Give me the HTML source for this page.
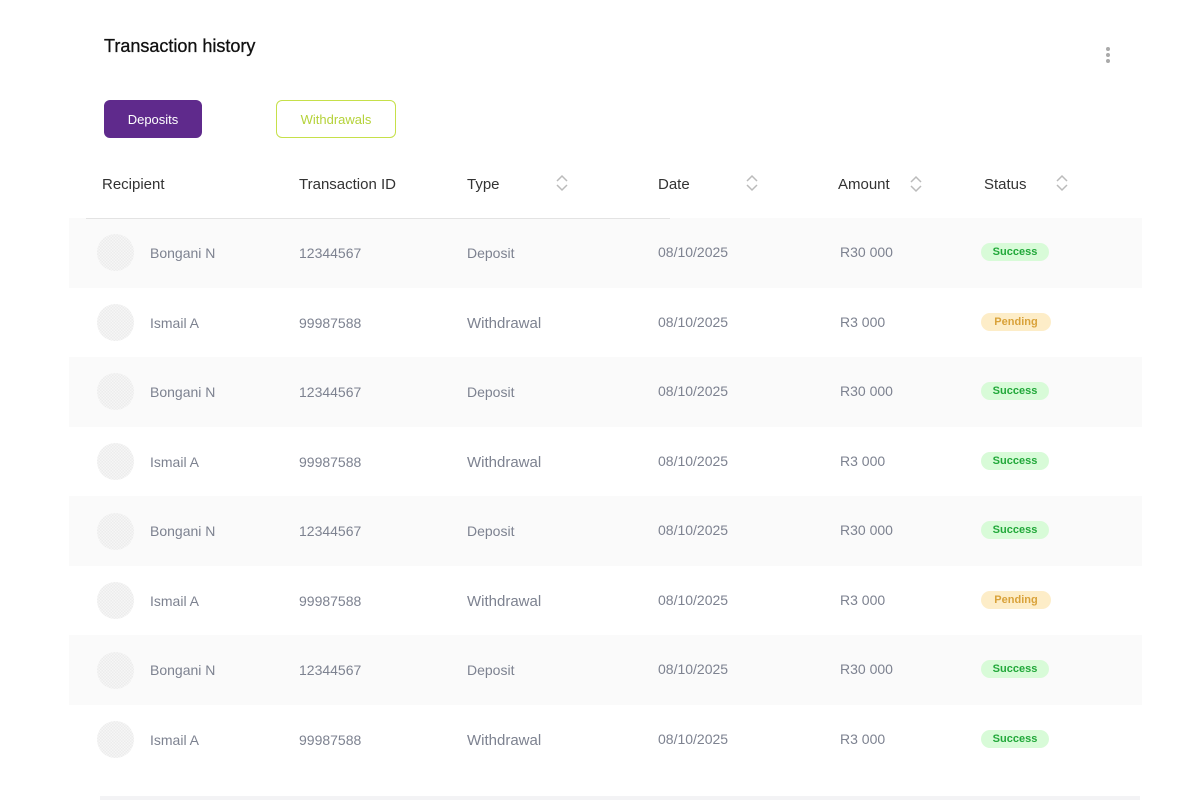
<!DOCTYPE html>
<html><head><meta charset="utf-8"><style>
*{margin:0;padding:0;box-sizing:border-box}
body{width:1200px;height:800px;background:#fff;position:relative;overflow:hidden;font-family:"Liberation Sans",sans-serif}
.a{position:absolute;white-space:nowrap}
.title{left:104px;top:36px;font-size:18px;color:#111;-webkit-text-stroke:0.3px #111}
.btn{top:100px;height:38px;border-radius:6px;font-size:13px;display:flex;align-items:center;justify-content:center}
.h{top:176px;font-size:15px;color:#333}
.sort{width:14px;height:20px}
.row{left:69px;width:1073px;height:70px}
.grey{background:#fafafa}
.c{font-size:14px;color:#7d8290;line-height:16px}
.w{font-size:15px;margin-top:2px}
.av{width:37px;height:37px;border-radius:50%;background:repeating-conic-gradient(#ececec 0 25%,#f6f6f6 0 50%) 0 0/3px 3px}
.pill{height:18px;border-radius:9px;font-size:11px;font-weight:bold;display:flex;align-items:center;justify-content:center}
.s{background:#d8fbd8;color:#22a83a;width:68px}
.p{background:#fdedc8;color:#d9a23a;width:70px}
.dot{left:1106px;width:4px;height:4px;border-radius:2px;background:#aaa}
</style></head><body>
<div class="a title">Transaction history</div>
<div class="a dot" style="top:47px"></div>
<div class="a dot" style="top:53px"></div>
<div class="a dot" style="top:59px"></div>
<div class="a btn" style="left:104px;width:98px;background:#5f2a8c;color:#fff">Deposits</div>
<div class="a btn" style="left:276px;width:120px;border:1.5px solid #c6e04a;color:#b5d23a">Withdrawals</div>

<div class="a h" style="left:102px">Recipient</div>
<div class="a h" style="left:299px">Transaction ID</div>
<div class="a h" style="left:467px">Type</div>
<div class="a h" style="left:658px">Date</div>
<div class="a h" style="left:838px">Amount</div>
<div class="a h" style="left:984px">Status</div>
<svg class="a sort" style="left:555px;top:173px" viewBox="0 0 14 20"><path d="M2 8L7 3L12 8M2 12L7 17L12 12" fill="none" stroke="#bbb" stroke-width="1.5"/></svg>
<svg class="a sort" style="left:745px;top:173px" viewBox="0 0 14 20"><path d="M2 8L7 3L12 8M2 12L7 17L12 12" fill="none" stroke="#bbb" stroke-width="1.5"/></svg>
<svg class="a sort" style="left:909px;top:174px" viewBox="0 0 14 20"><path d="M2 8L7 3L12 8M2 12L7 17L12 12" fill="none" stroke="#bbb" stroke-width="1.5"/></svg>
<svg class="a sort" style="left:1055px;top:173px" viewBox="0 0 14 20"><path d="M2 8L7 3L12 8M2 12L7 17L12 12" fill="none" stroke="#bbb" stroke-width="1.5"/></svg>

<div class="a row grey" style="top:218px"></div>
<div class="a row grey" style="top:357px"></div>
<div class="a row grey" style="top:496px"></div>
<div class="a row grey" style="top:635px"></div>
<div class="a" style="left:86px;top:218px;width:584px;height:1px;background:#e3e3e3"></div>
<div class="a" style="left:100px;top:796px;width:1040px;height:4px;background:#f3f3f5"></div>

<div class="a av" style="left:97px;top:234px"></div>
<div class="a c" style="left:150px;top:245px">Bongani N</div>
<div class="a c" style="left:299px;top:245px">12344567</div>
<div class="a c" style="left:467px;top:245px">Deposit</div>
<div class="a c" style="left:658px;top:244px">08/10/2025</div>
<div class="a c" style="left:840px;top:244px">R30 000</div>
<div class="a pill s" style="left:981px;top:243px">Success</div>

<div class="a av" style="left:97px;top:304px"></div>
<div class="a c" style="left:150px;top:315px">Ismail A</div>
<div class="a c" style="left:299px;top:315px">99987588</div>
<div class="a c w" style="left:467px;top:314px">Withdrawal</div>
<div class="a c" style="left:658px;top:314px">08/10/2025</div>
<div class="a c" style="left:840px;top:314px">R3 000</div>
<div class="a pill p" style="left:981px;top:313px">Pending</div>

<div class="a av" style="left:97px;top:373px"></div>
<div class="a c" style="left:150px;top:384px">Bongani N</div>
<div class="a c" style="left:299px;top:384px">12344567</div>
<div class="a c" style="left:467px;top:384px">Deposit</div>
<div class="a c" style="left:658px;top:383px">08/10/2025</div>
<div class="a c" style="left:840px;top:383px">R30 000</div>
<div class="a pill s" style="left:981px;top:382px">Success</div>

<div class="a av" style="left:97px;top:443px"></div>
<div class="a c" style="left:150px;top:454px">Ismail A</div>
<div class="a c" style="left:299px;top:454px">99987588</div>
<div class="a c w" style="left:467px;top:453px">Withdrawal</div>
<div class="a c" style="left:658px;top:453px">08/10/2025</div>
<div class="a c" style="left:840px;top:453px">R3 000</div>
<div class="a pill s" style="left:981px;top:452px">Success</div>

<div class="a av" style="left:97px;top:513px"></div>
<div class="a c" style="left:150px;top:523px">Bongani N</div>
<div class="a c" style="left:299px;top:523px">12344567</div>
<div class="a c" style="left:467px;top:523px">Deposit</div>
<div class="a c" style="left:658px;top:522px">08/10/2025</div>
<div class="a c" style="left:840px;top:522px">R30 000</div>
<div class="a pill s" style="left:981px;top:521px">Success</div>

<div class="a av" style="left:97px;top:582px"></div>
<div class="a c" style="left:150px;top:593px">Ismail A</div>
<div class="a c" style="left:299px;top:593px">99987588</div>
<div class="a c w" style="left:467px;top:592px">Withdrawal</div>
<div class="a c" style="left:658px;top:592px">08/10/2025</div>
<div class="a c" style="left:840px;top:592px">R3 000</div>
<div class="a pill p" style="left:981px;top:591px">Pending</div>

<div class="a av" style="left:97px;top:652px"></div>
<div class="a c" style="left:150px;top:662px">Bongani N</div>
<div class="a c" style="left:299px;top:662px">12344567</div>
<div class="a c" style="left:467px;top:662px">Deposit</div>
<div class="a c" style="left:658px;top:661px">08/10/2025</div>
<div class="a c" style="left:840px;top:661px">R30 000</div>
<div class="a pill s" style="left:981px;top:660px">Success</div>

<div class="a av" style="left:97px;top:721px"></div>
<div class="a c" style="left:150px;top:732px">Ismail A</div>
<div class="a c" style="left:299px;top:732px">99987588</div>
<div class="a c w" style="left:467px;top:731px">Withdrawal</div>
<div class="a c" style="left:658px;top:731px">08/10/2025</div>
<div class="a c" style="left:840px;top:731px">R3 000</div>
<div class="a pill s" style="left:981px;top:730px">Success</div>
</body></html>
